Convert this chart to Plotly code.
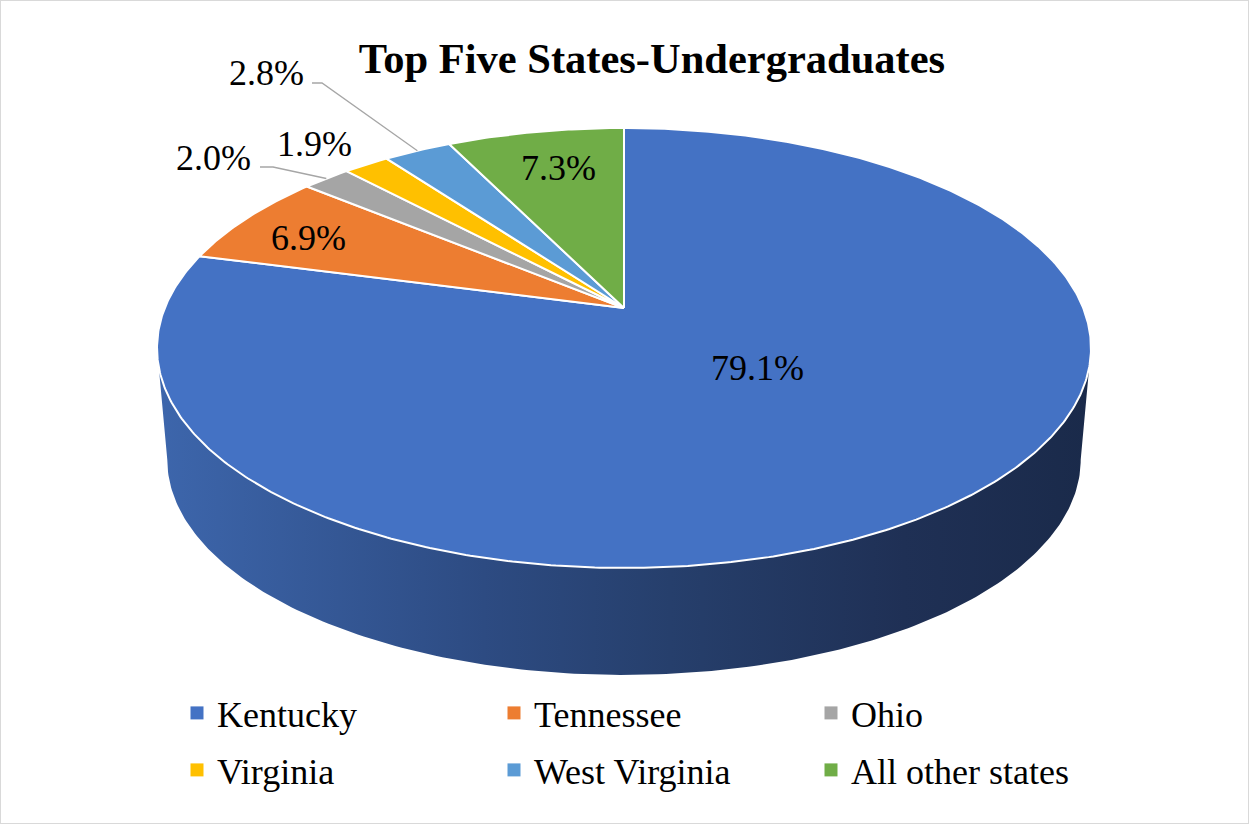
import numpy as np
import plotly.graph_objects as go

# ---- data ----
states = ["Kentucky", "Tennessee", "Ohio", "Virginia", "West Virginia", "All other states"]
shares = [79.1, 6.9, 2.0, 1.9, 2.8, 7.3]
colors = ["#4472C4", "#ED7D31", "#A5A5A5", "#FFC000", "#5B9BD5", "#70AD47"]
chart_title = "Top Five States-Undergraduates"

# ---- layout / geometry constants (pixels) ----
W, H = 1249, 824
CX, CY = 624, 308          # projected pie centre
A, B, K = 459.2, 212.7, 0.1818   # perspective ellipse parameters
DEPTH = 112.7
SHRINK = 0.978
FONT = "Liberation Serif, Times New Roman, serif"

# label anchor positions (x, y) and optional leader-line start/elbow
label_pos = [(757, 368), (308, 238), (213, 158), (314, 144), (266, 73), (558, 168)]
leader = [None, None, ((260, 167), (273, 167)), None, ((312, 83), (322, 83)), None]


def proj(theta_deg, r=1.0):
    t = np.radians(theta_deg)
    u = r * np.sin(t)
    v = r * np.cos(t)
    w = 1 + K * v
    return CX + A * u / w, CY - B * v / w


def bottom(x, y):
    return CX + SHRINK * (x - CX), CY + SHRINK * (y - CY) + DEPTH


fig = go.Figure()

# ---- side wall (front half) ----
th_l = np.degrees(np.arccos(-K))
th_r = 360 - th_l
front = np.linspace(th_l, th_r, 200)
tx, ty = proj(front)
bx, by = bottom(tx, ty)
sx = np.concatenate([tx, bx[::-1]])
sy = np.concatenate([ty, by[::-1]])
fig.add_trace(go.Scatter(
    x=sx, y=sy, mode="lines", fill="toself", line=dict(width=0),
    fillgradient=dict(type="horizontal", colorscale=[
        [0.0, "#3D66AC"], [0.35, "#2D4B82"], [0.55, "#263F6C"],
        [0.8, "#1F3055"], [1.0, "#1A2A4A"]]),
    showlegend=False, hoverinfo="skip"))

# ---- top slices ----
total = sum(shares)
start = 0.0
mids = []
for name, val, col in zip(states, shares, colors):
    span = 360.0 * val / total
    th = np.linspace(start, start + span, max(int(span * 2), 4))
    ax, ay = proj(th)
    px = np.concatenate([[CX], ax, [CX]])
    py = np.concatenate([[CY], ay, [CY]])
    fig.add_trace(go.Scatter(
        x=px, y=py, mode="lines", fill="toself", fillcolor=col,
        line=dict(color="white", width=2), showlegend=False,
        hoverinfo="skip"))
    mids.append(start + span / 2)
    start += span

# ---- legend entries (two rows of three) ----
for i, (name, col) in enumerate(zip(states, colors)):
    fig.add_trace(go.Scatter(
        x=[None], y=[None], mode="markers", name=name,
        legend="legend" if i < 3 else "legend2",
        marker=dict(symbol="square", size=13, color=col)))

# ---- labels and leader lines ----
annotations = []
for i, val in enumerate(shares):
    lx, ly = label_pos[i]
    annotations.append(dict(
        x=lx, y=ly, xref="x", yref="y", text=f"{val:.1f}%", showarrow=False,
        xanchor="center", yanchor="middle",
        font=dict(family=FONT, size=36, color="black")))
    if leader[i] is not None:
        (x0, y0), (x1, y1) = leader[i]
        ex, ey = proj(mids[i])
        fig.add_trace(go.Scatter(
            x=[x0, x1, float(ex)], y=[y0, y1, float(ey)], mode="lines",
            line=dict(color="#A6A6A6", width=1.3), showlegend=False,
            hoverinfo="skip"))

legend_common = dict(orientation="h", x=177 / W, xanchor="left", yanchor="top",
                     entrywidth=272, entrywidthmode="pixels",
                     font=dict(family=FONT, size=36, color="black"),
                     bgcolor="rgba(0,0,0,0)")

fig.update_layout(
    width=W, height=H,
    margin=dict(l=0, r=0, t=0, b=0),
    paper_bgcolor="white", plot_bgcolor="white",
    title=dict(text=f"<b>{chart_title}</b>", x=652 / W, y=1 - 58 / H,
               xanchor="center", yanchor="middle",
               font=dict(family=FONT, size=42.5, color="black")),
    xaxis=dict(range=[0, W], visible=False, fixedrange=True),
    yaxis=dict(range=[H, 0], visible=False, fixedrange=True),
    showlegend=True,
    legend=dict(y=1 - 683 / H, **legend_common),
    legend2=dict(y=1 - 740 / H, **legend_common),
    annotations=annotations,
    shapes=[dict(type="rect", xref="paper", yref="paper", x0=0, y0=0, x1=1, y1=1,
                 line=dict(color="#D9D9D9", width=2))],
    hovermode=False,
)

fig.write_html("out.html", config={"displayModeBar": False},
               post_script="document.body.style.margin='0';")
